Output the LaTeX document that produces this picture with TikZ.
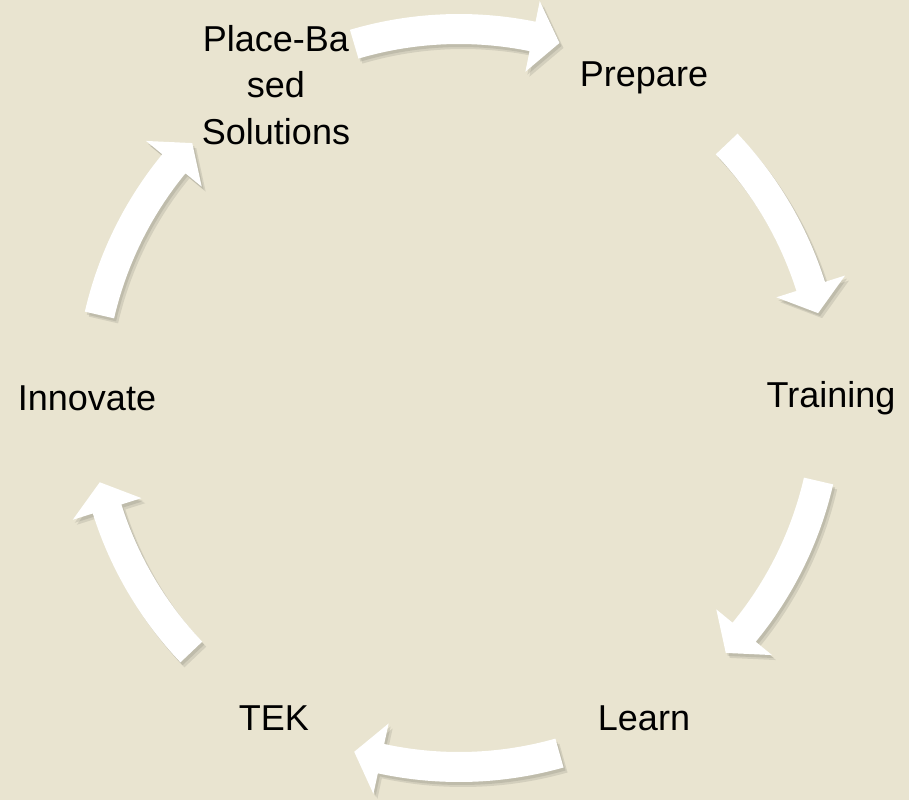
\documentclass[tikz,border=0pt]{standalone}
\usepackage{fontspec}
\setmainfont{Liberation Sans}
\definecolor{bgcream}{RGB}{233,228,208}

\begin{document}
\begin{tikzpicture}[x=0.75pt,y=0.75pt,
  steptext/.style={font=\fontsize{27}{35}\selectfont, align=center, text=black},
  blockarrow/.style={fill=white},
  arrowshadow/.style={fill=black, opacity=0.09}]
 \useasboundingbox[fill=bgcream] (-459,-402) rectangle (450,398);
 %
 \node[steptext] (place) at (-183,313) {Place-Ba\\sed\\Solutions};
 \node[steptext] (prepare) at (60:370) {Prepare};
 \node[steptext] (training) at (0:372) {Training};
 \node[steptext] (learn) at (-60:370) {Learn};
 \node[steptext] (tek) at (-120:370) {TEK};
 \node[steptext] (innovate) at (180:372) {Innovate};
 %
 % tail angle / tip angle, clockwise
 \foreach \ta/\tb in {106.5/74.2, 43.5/13.3, -13/-43.7, -74.2/-106.5, -136.5/-166.8, 167/136.3} {
   \foreach \sx/\sy in {4/-5,2/-3} {
     \fill[arrowshadow, shift={(\sx,\sy)}] (\ta:384) arc[start angle=\ta, end angle=\tb+4.3, radius=384]
       -- (\tb+4.3:405) -- (\tb:369) -- (\tb+4.3:333) -- (\tb+4.3:354)
       arc[start angle=\tb+4.3, end angle=\ta, radius=354] -- cycle;
   }
   \fill[blockarrow] (\ta:384) arc[start angle=\ta, end angle=\tb+4.3, radius=384]
     -- (\tb+4.3:405) -- (\tb:369) -- (\tb+4.3:333) -- (\tb+4.3:354)
     arc[start angle=\tb+4.3, end angle=\ta, radius=354] -- cycle;
 }
\end{tikzpicture}
\end{document}
